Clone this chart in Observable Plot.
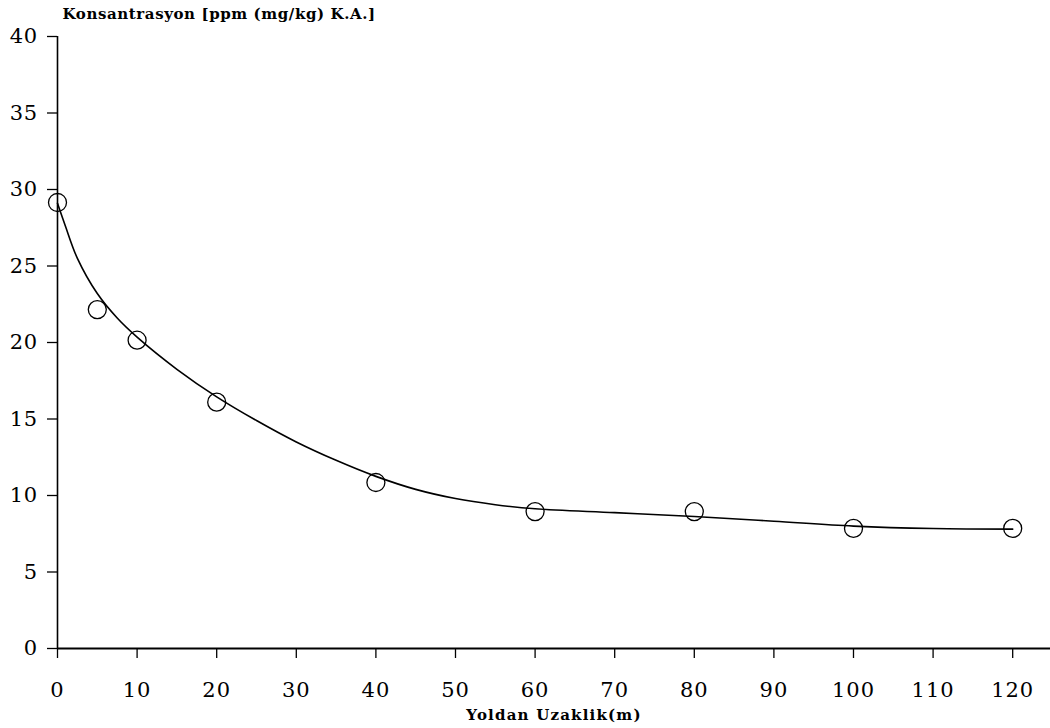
<!DOCTYPE html>
<html>
<head>
<meta charset="utf-8">
<script src="https://cdn.jsdelivr.net/npm/d3@7"></script>
<script src="https://cdn.jsdelivr.net/npm/@observablehq/plot@0.6"></script>
<style>
  html, body { margin: 0; padding: 0; background: #fff; }
  g[aria-label="x-axis tick label"] text { letter-spacing: 1px; }
  g[aria-label="y-axis tick label"] text { letter-spacing: 0.5px; }
  g.ytitle text { letter-spacing: 0.6px; }
  g.xtitle text { letter-spacing: 1.2px; }
</style>
</head>
<body>
<div id="chart"></div>
<script>
// Measured points: distance from road (m) vs concentration (ppm)
const distances = [0, 5, 10, 20, 40, 60, 80, 100, 120];
const concentrations = [29.15, 22.15, 20.15, 16.1, 10.85, 8.95, 8.95, 7.85, 7.85];

// Fitted curve
const fitX = [0, 1, 2.5, 5, 7.5, 10, 15, 20, 25, 30, 35, 40, 45, 50, 55, 60, 70, 80, 90, 100, 110, 120];
const fitY = [29.1, 27.6, 25.5, 23.2, 21.6, 20.35, 18.25, 16.45, 14.9, 13.5, 12.3, 11.25, 10.4, 9.8, 9.4, 9.13, 8.88, 8.63, 8.32, 8.0, 7.84, 7.8];

const xTicks = [0, 10, 20, 30, 40, 50, 60, 70, 80, 90, 100, 110, 120];
const yTicks = [0, 5, 10, 15, 20, 25, 30, 35, 40];

const yTitle = "Konsantrasyon [ppm (mg/kg) K.A.]";
const xTitle = "Yoldan Uzaklik(m)";

const points = distances.map((d, i) => ({x: d, y: concentrations[i]}));
const fit = fitX.map((d, i) => ({x: d, y: fitY[i]}));

const chart = Plot.plot({
  width: 1050,
  height: 728,
  marginTop: 36,
  marginLeft: 57,
  marginRight: 0,
  marginBottom: 80,
  style: {fontFamily: "'DejaVu Serif', serif", fontSize: "21px", color: "#000", background: "#fff", overflow: "visible"},
  x: {domain: [0, 124.75]},
  y: {domain: [0, 40]},
  marks: [
    Plot.axisX(xTicks, {tickSize: 10, tickPadding: 24, label: null, strokeWidth: 1.3}),
    Plot.axisY(yTicks, {tickSize: 10, tickPadding: 10, label: null, strokeWidth: 1.3}),
    Plot.ruleX([0], {stroke: "#000", strokeWidth: 1.6}),
    Plot.ruleY([0], {stroke: "#000", strokeWidth: 1.8}),
    Plot.line(fit, {x: "x", y: "y", curve: "catmull-rom", stroke: "#000", strokeWidth: 1.6}),
    Plot.dot(points, {x: "x", y: "y", r: 9, stroke: "#000", strokeWidth: 1.3, fill: "none"}),
    Plot.text([yTitle], {frameAnchor: "top-left", dx: 5, dy: -18, lineAnchor: "bottom", textAnchor: "start", fontSize: 15, fontWeight: "bold", fill: "#000", className: "ytitle"}),
    Plot.text([xTitle], {frameAnchor: "bottom", dy: 71, lineAnchor: "bottom", textAnchor: "middle", fontSize: 15, fontWeight: "bold", fill: "#000", className: "xtitle"})
  ]
});
document.getElementById("chart").appendChild(chart);
</script>
</body>
</html>
